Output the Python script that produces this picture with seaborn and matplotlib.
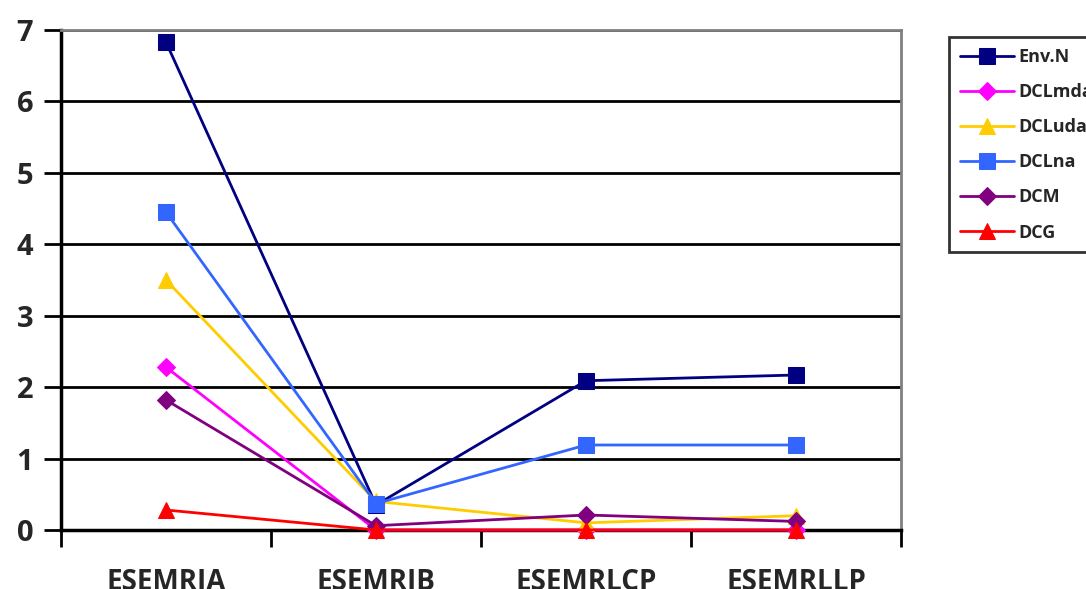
import numpy as np
import pandas as pd
import matplotlib
matplotlib.use("Agg")
import matplotlib.pyplot as plt
import seaborn as sns

categories = ["ESEMRIA", "ESEMRIB", "ESEMRLCP", "ESEMRLLP"]
series_names = ["Env.N", "DCLmda", "DCLuda", "DCLna", "DCM", "DCG"]
env_n = [6.83, 0.35, 2.09, 2.17]
dcl_mda = [2.28, 0.0, 0.0, 0.0]
dcl_uda = [3.50, 0.40, 0.10, 0.20]
dcl_na = [4.45, 0.37, 1.19, 1.19]
dcm = [1.82, 0.06, 0.21, 0.12]
dcg = [0.28, 0.0, 0.0, 0.0]
y_ticks = [0, 1, 2, 3, 4, 5, 6, 7]

colors = ["#000080", "#FF00FF", "#FFCC00", "#3366FF", "#800080", "#FF0000"]
markers = ["s", "D", "^", "s", "D", "^"]

values = [env_n, dcl_mda, dcl_uda, dcl_na, dcm, dcg]
rows = []
for name, vals in zip(series_names, values):
    for i, v in enumerate(vals):
        rows.append({"pos": i + 0.5, "value": v, "series": name})
df = pd.DataFrame(rows)

sns.set_theme(style="white")
plt.rcParams["font.family"] = ["Open Sans", "DejaVu Sans"]
plt.rcParams["font.weight"] = "bold"

fig = plt.figure(figsize=(10.86, 5.89), dpi=100)
ax = fig.add_axes([61 / 1086, 1 - 530 / 589, 840 / 1086, 500 / 589])

sizes = {"s": 11, "D": 9, "^": 11}
for name, vals, c, m in zip(series_names, values, colors, markers):
    sub = df[df["series"] == name]
    sns.lineplot(data=sub, x="pos", y="value", ax=ax, color=c, marker=m,
                 markersize=sizes[m], markeredgecolor=c, linewidth=2,
                 label=name, legend=False, zorder=3, clip_on=False)

ax.set_xlim(0, 4)
ax.set_ylim(0, 7)
ax.set_xlabel("")
ax.set_ylabel("")

# y axis: gridlines, outward ticks
ax.set_yticks(y_ticks)
ax.set_yticklabels([str(t) for t in y_ticks], fontsize=21, fontweight="bold")
ax.yaxis.grid(True, color="black", linewidth=2)
ax.tick_params(axis="y", direction="out", length=12, width=2, color="black",
               left=True, pad=8)

# x axis: labels at category centres, tick marks between categories
ax.set_xticks([i + 0.5 for i in range(len(categories))])
ax.set_xticklabels(categories, fontsize=20, fontweight="bold")
ax.set_xticks(range(len(categories) + 1), minor=True)
ax.tick_params(axis="x", which="major", length=0, pad=27)
ax.tick_params(axis="x", which="minor", direction="out", length=12, width=2,
               color="black", bottom=True)

for side in ["left", "bottom"]:
    ax.spines[side].set_color("black")
    ax.spines[side].set_linewidth(2.5)
for side in ["top", "right"]:
    ax.spines[side].set_color("#808080")
    ax.spines[side].set_linewidth(2)

handles, labels = ax.get_legend_handles_labels()
leg = fig.legend(handles, labels, loc="upper left",
                 bbox_to_anchor=(949 / 1086, 1 - 37 / 589),
                 borderaxespad=0,
                 frameon=True, fancybox=False, edgecolor="black",
                 prop={"weight": "bold", "size": 13},
                 handlelength=3.0, labelspacing=0.95, borderpad=0.6,
                 handletextpad=0.25, markerscale=1.0)
leg.get_frame().set_linewidth(2)

fig.savefig("out.png", dpi=100)
